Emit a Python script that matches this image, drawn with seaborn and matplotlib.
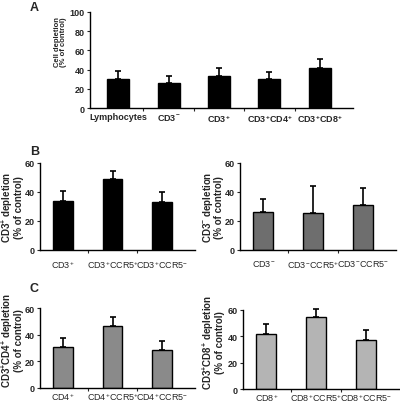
import numpy as np
import matplotlib
matplotlib.use("Agg")
import matplotlib.pyplot as plt
import seaborn as sns

P = "$^{+}$"
M = "$^{-}$"

# panel A
a_cats = ["Lymphocytes", "CD3" + M, "CD3" + P, "CD3" + P + "CD4" + P, "CD3" + P + "CD8" + P]
a_vals = [30, 26, 33, 30, 41.5]
a_errs = [8.5, 7, 8.5, 7, 9.5]

# panel B
b1_cats = ["CD3" + P, "CD3" + P + "CCR5" + P, "CD3" + P + "CCR5" + M]
b1_vals = [34, 49, 33]
b1_errs = [6.5, 5.5, 7]

b2_cats = ["CD3" + M, "CD3" + M + "CCR5" + P, "CD3" + M + "CCR5" + M]
b2_vals = [26.5, 25.5, 31]
b2_errs = [9, 18.5, 12]

# panel C
c1_cats = ["CD4" + P, "CD4" + P + "CCR5" + P, "CD4" + P + "CCR5" + M]
c1_vals = [30.5, 46.5, 28.5]
c1_errs = [7, 6.5, 7]

c2_cats = ["CD8" + P, "CD8" + P + "CCR5" + P, "CD8" + P + "CCR5" + M]
c2_vals = [41.5, 55, 37.5]
c2_errs = [7.5, 6, 7]

sns.set_style("white")
plt.rcParams['font.family'] = ['Liberation Sans', 'DejaVu Sans']
plt.rcParams['mathtext.fontset'] = 'custom'
plt.rcParams['mathtext.rm'] = 'Liberation Sans'
plt.rcParams['mathtext.bf'] = 'Liberation Sans:bold'
plt.rcParams['mathtext.default'] = 'regular'

fig = plt.figure(figsize=(4, 4.06), dpi=100)


def draw(rect, cats, vals, errs, color, ylim, yticks, ylabel, lab_xy, width, xlim,
         bold_x=False, xfs=6.5, lfs=7, xpad=6):
    ax = fig.add_axes(rect)
    sns.barplot(x=cats, y=vals, color=color, edgecolor="black", linewidth=1.0,
                width=width, saturation=1, ax=ax)
    ax.errorbar(np.arange(len(vals)), vals, yerr=[np.zeros(len(vals)), errs],
                fmt="none", ecolor="black", elinewidth=1.2, capsize=2, capthick=1.2,
                clip_on=False)
    ax.set_ylim(*ylim)
    ax.set_xlim(*xlim)
    ax.set_yticks(yticks)
    ax.set_yticklabels([str(t) for t in yticks], fontsize=6.5, fontweight="bold")
    ax.set_xticks(range(len(cats)))
    ax.set_xticklabels(cats, fontsize=xfs, fontweight="bold" if bold_x else "normal")
    ax.set_xticks(np.arange(len(cats) - 1) + 0.5, minor=True)
    ax.tick_params(axis="x", which="major", length=0, pad=xpad)
    ax.tick_params(axis="x", which="minor", length=2, width=0.8, direction="out", bottom=True)
    ax.tick_params(axis="y", length=2.5, width=0.8, direction="out", pad=1.5, left=True)
    sns.despine(ax=ax)
    for s in ["left", "bottom"]:
        ax.spines[s].set_linewidth(1.0)
        ax.spines[s].set_color("black")
    ax.set_ylabel(ylabel, fontsize=lfs, fontweight="bold", linespacing=0.9)
    ax.yaxis.set_label_coords(*lab_xy)
    ax.set_xlabel("")
    return ax


draw([0.225, 0.7315, 0.6575, 0.2365], a_cats, a_vals, a_errs, "black", (0, 100),
     [0, 20, 40, 60, 80, 100], "Cell depletion\n(% of control)", (-0.087, 0.70),
     0.44, (-0.56, 4.66), bold_x=True, xfs=6.5, lfs=5.5, xpad=3)

draw([0.10, 0.3818, 0.3875, 0.2143], b1_cats, b1_vals, b1_errs, "black", (0, 60),
     [0, 20, 40, 60], "CD3$^{\\mathbf{+}}$ depletion\n(% of control)", (-0.10, 0.5),
     0.4, (-0.47, 2.67))

draw([0.60, 0.3818, 0.39, 0.2143], b2_cats, b2_vals, b2_errs, "#6e6e6e", (0, 60),
     [0, 20, 40, 60], "CD3$^{\\mathbf{-}}$ depletion\n(% of control)", (-0.10, 0.5),
     0.4, (-0.47, 2.67))

draw([0.10, 0.0419, 0.3875, 0.197], c1_cats, c1_vals, c1_errs, "#8a8a8a", (0, 60),
     [0, 20, 40, 60], "CD3$^{\\mathbf{+}}$CD4$^{\\mathbf{+}}$ depletion\n(% of control)",
     (-0.10, 0.61), 0.4, (-0.47, 2.67), xpad=1.5)

draw([0.6075, 0.0394, 0.39, 0.1946], c2_cats, c2_vals, c2_errs, "#b4b4b4", (0, 60),
     [0, 20, 40, 60], "CD3$^{\\mathbf{+}}$CD8$^{\\mathbf{+}}$ depletion\n(% of control)",
     (-0.115, 0.6), 0.4, (-0.47, 2.67), xpad=1.5)

fig.text(30 / 400, 1 - 8 / 406, "A", fontsize=9, fontweight="bold", va="center")
fig.text(30 / 400, 1 - 152 / 406, "B", fontsize=9, fontweight="bold", va="center")
fig.text(30 / 400, 1 - 289 / 406, "C", fontsize=9, fontweight="bold", va="center")

fig.savefig("out.png", dpi=100)
